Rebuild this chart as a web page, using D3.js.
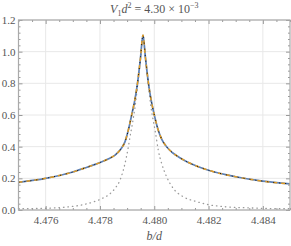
<!DOCTYPE html>
<html>
<head>
<meta charset="utf-8">
<script src="https://cdn.jsdelivr.net/npm/d3@7"></script>
<style>
  body { margin: 0; background: #fff; }
  svg { display: block; }
  text { font-family: "Liberation Serif", "Times New Roman", serif; }
</style>
</head>
<body>
<svg id="chart" width="291" height="246"></svg>
<script>
// b/d values and the full curve (drawn 3 times: blue, orange dashed, black dotted)
const fullX = [4.4750, 4.4760, 4.4770, 4.477456, 4.477823, 4.478007, 4.478300, 4.478557, 4.478778, 4.478924,
  4.479053, 4.479181, 4.479291, 4.479383, 4.479493, 4.479585, 4.479677, 4.479787, 4.479879, 4.479989,
  4.480136, 4.480282, 4.480429, 4.480686, 4.480943, 4.481200, 4.481677, 4.4820, 4.4830, 4.4840, 4.4850];
const fullY = [0.175, 0.200, 0.240, 0.266, 0.288, 0.300, 0.322, 0.347, 0.387, 0.432,
  0.510, 0.610, 0.700, 0.800, 0.960, 1.105, 0.960, 0.800, 0.700, 0.610,
  0.510, 0.445, 0.405, 0.360, 0.330, 0.305, 0.270, 0.251, 0.210, 0.182, 0.165];

// narrow gray dotted curve
const narrowX = [4.4750, 4.4760, 4.476722, 4.477335, 4.477860, 4.478069, 4.478312, 4.478557, 4.478741, 4.478862,
  4.478987, 4.479046, 4.479108, 4.479200, 4.479291, 4.479383, 4.479493, 4.479585, 4.479677, 4.479787,
  4.479879, 4.479970, 4.480044, 4.480146, 4.480271, 4.480455, 4.480697, 4.481064, 4.481556, 4.481982,
  4.482594, 4.483574, 4.484796, 4.4850];
const narrowY = [0.008, 0.011, 0.018, 0.032, 0.057, 0.072, 0.095, 0.137, 0.190, 0.253,
  0.345, 0.400, 0.463, 0.550, 0.650, 0.780, 0.950, 1.105, 0.950, 0.780,
  0.650, 0.560, 0.490, 0.380, 0.295, 0.210, 0.137, 0.084, 0.053, 0.034,
  0.021, 0.013, 0.008, 0.008];

const xTicks = [4.476, 4.478, 4.480, 4.482, 4.484];
const yTicks = [0.0, 0.2, 0.4, 0.6, 0.8, 1.0, 1.2];

const svg = d3.select('#chart');
const L = 18.5, R = 290, T = 20, B = 210;

const x = d3.scaleLinear().domain([4.475, 4.485]).range([L, R]);
const y = d3.scaleLinear().domain([0, 1.2]).range([B, T]);

// grid
const grid = svg.append('g').attr('stroke', '#e8e8e8').attr('stroke-width', 1);
xTicks.forEach(v => grid.append('line')
  .attr('x1', x(v)).attr('x2', x(v)).attr('y1', T).attr('y2', B));
yTicks.forEach(v => grid.append('line')
  .attr('x1', L).attr('x2', R).attr('y1', y(v)).attr('y2', y(v)));

// curves
const line = (xs, ys) => d3.line()
  .x((d, i) => x(xs[i]))
  .y(d => y(d))
  .curve(d3.curveMonotoneX)(ys);

svg.append('path').attr('d', line(narrowX, narrowY))
  .attr('fill', 'none').attr('stroke', '#999').attr('stroke-width', 1.3)
  .attr('stroke-dasharray', '0.5,4').attr('stroke-linecap', 'round');

svg.append('path').attr('d', line(fullX, fullY))
  .attr('fill', 'none').attr('stroke', '#5e81b5').attr('stroke-width', 1.7);
svg.append('path').attr('d', line(fullX, fullY))
  .attr('fill', 'none').attr('stroke', '#e19c24').attr('stroke-width', 1.5)
  .attr('stroke-dasharray', '4,4');
svg.append('path').attr('d', line(fullX, fullY))
  .attr('fill', 'none').attr('stroke', '#111').attr('stroke-width', 1)
  .attr('stroke-dasharray', '1,5');

// frame with inward ticks
const xMinor = d3.range(4.475, 4.48501, 0.0005).filter(v => !xTicks.some(t => Math.abs(t - v) < 1e-6));
const yMinor = d3.range(0, 1.2001, 0.04).filter(v => !yTicks.some(t => Math.abs(t - v) < 1e-6));

function styleAxis(g) {
  g.attr('font-family', null).attr('font-size', null);
  g.select('.domain').remove();
  g.selectAll('.tick line').attr('stroke', '#999');
  g.selectAll('.tick text').attr('fill', '#555')
    .style('font-family', '"Liberation Serif", "Times New Roman", serif')
    .style('font-size', '11px');
}

svg.append('g').attr('transform', `translate(0,${B})`)
  .call(d3.axisBottom(x).tickValues(xTicks).tickSize(-4).tickPadding(6).tickFormat(d3.format('.3f')))
  .call(styleAxis);
svg.append('g').attr('transform', `translate(0,${B})`)
  .call(d3.axisBottom(x).tickValues(xMinor).tickSize(-2).tickFormat(''))
  .call(styleAxis);
svg.append('g').attr('transform', `translate(0,${T})`)
  .call(d3.axisTop(x).tickValues(xTicks).tickSize(-4).tickFormat(''))
  .call(styleAxis);
svg.append('g').attr('transform', `translate(0,${T})`)
  .call(d3.axisTop(x).tickValues(xMinor).tickSize(-2).tickFormat(''))
  .call(styleAxis);

svg.append('g').attr('transform', `translate(${L},0)`)
  .call(d3.axisLeft(y).tickValues(yTicks).tickSize(-4).tickPadding(3).tickFormat(d3.format('.1f')))
  .call(styleAxis);
svg.append('g').attr('transform', `translate(${L},0)`)
  .call(d3.axisLeft(y).tickValues(yMinor).tickSize(-2).tickFormat(''))
  .call(styleAxis);
svg.append('g').attr('transform', `translate(${R},0)`)
  .call(d3.axisRight(y).tickValues(yTicks).tickSize(-4).tickFormat(''))
  .call(styleAxis);
svg.append('g').attr('transform', `translate(${R},0)`)
  .call(d3.axisRight(y).tickValues(yMinor).tickSize(-2).tickFormat(''))
  .call(styleAxis);

svg.append('rect')
  .attr('x', L).attr('y', T).attr('width', R - L).attr('height', B - T)
  .attr('fill', 'none').attr('stroke', '#aaa').attr('stroke-width', 1.2);

// title
const title = svg.append('text')
  .attr('x', (L + R) / 2).attr('y', 13)
  .attr('text-anchor', 'middle').attr('fill', '#555').attr('font-size', 12);
title.append('tspan').attr('font-style', 'italic').text('V');
title.append('tspan').attr('font-size', 8).attr('dy', 3).text('1');
title.append('tspan').attr('font-style', 'italic').attr('dy', -3).text('d');
title.append('tspan').attr('font-size', 8).attr('dy', -5).text('2');
title.append('tspan').attr('dy', 5).text(' = 4.30 × 10');
title.append('tspan').attr('font-size', 8).attr('dy', -5).text('−3');

// x axis label
svg.append('text')
  .attr('x', (L + R) / 2).attr('y', 240)
  .attr('text-anchor', 'middle').attr('fill', '#555').attr('font-size', 12)
  .attr('font-style', 'italic').text('b/d');
</script>
</body>
</html>
